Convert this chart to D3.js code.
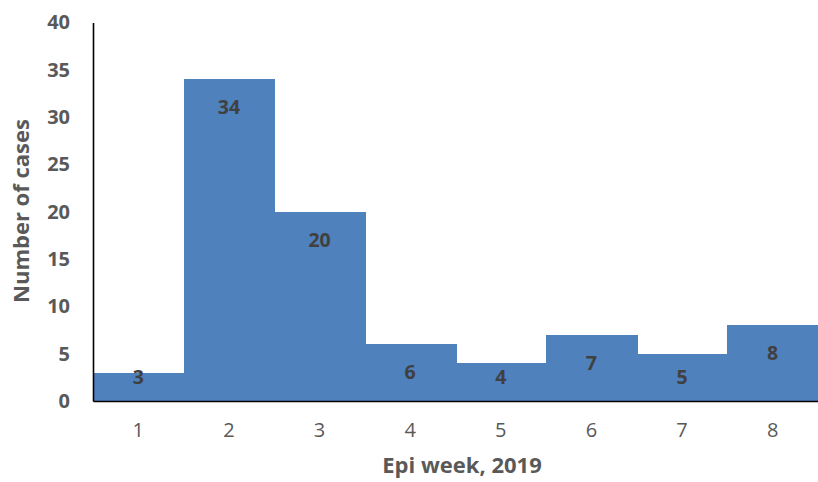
<!DOCTYPE html>
<html><head><meta charset="utf-8">
<script src="https://cdn.jsdelivr.net/npm/d3@7"></script>
<style>body{margin:0;background:#fff}</style>
</head><body>
<svg id="c" width="818" height="482"></svg>
<script>
const weeks = ["1","2","3","4","5","6","7","8"];
const cases = [3,34,20,6,4,7,5,8];
const yTicks = [0,5,10,15,20,25,30,35,40];

const svg = d3.select("#c");
const font = "'Open Sans', sans-serif";
const m = {left:93, right:818, top:22.5, bottom:401};
const x = d3.scaleBand().domain(weeks).range([m.left, m.right]).padding(0);
const y = d3.scaleLinear().domain([0,40]).range([m.bottom, m.top]);

svg.selectAll("rect.bar").data(cases).join("rect")
  .attr("class","bar")
  .attr("x",(d,i)=>x(weeks[i]))
  .attr("width",x.bandwidth()+1)
  .attr("y",d=>y(d))
  .attr("height",d=>y(0)-y(d))
  .attr("fill","#4F81BD")
  .attr("shape-rendering","crispEdges");

// y axis
const ya = svg.append("g").attr("transform",`translate(${m.left},0)`)
  .call(d3.axisLeft(y).tickValues(yTicks).tickSize(0).tickPadding(23));
ya.select(".domain").attr("stroke","#000").attr("stroke-width",1.6);
ya.selectAll("text").attr("font-family",font).attr("font-size",20)
  .attr("font-weight","bold").attr("fill","#595959");

// x axis
const xa = svg.append("g").attr("transform",`translate(0,${m.bottom})`)
  .call(d3.axisBottom(x).tickSize(0).tickPadding(22));
xa.select(".domain").attr("stroke","#000").attr("stroke-width",1.6);
xa.selectAll("text").attr("font-family",font).attr("font-size",20)
  .attr("fill","#595959");

// data labels
svg.selectAll("text.lbl").data(cases).join("text")
  .attr("class","lbl")
  .attr("x",(d,i)=>x(weeks[i])+x.bandwidth()/2)
  .attr("y",d=>Math.min(y(d)+28, y(0)-24))
  .attr("dy","0.35em")
  .attr("text-anchor","middle")
  .attr("font-family",font).attr("font-size",19.5).attr("font-weight","bold")
  .attr("fill","#404040")
  .text(d=>d);

// axis titles
svg.append("text").attr("x",462).attr("y",473).attr("text-anchor","middle")
  .attr("font-family",font).attr("font-size",22).attr("font-weight","bold")
  .attr("fill","#595959").text("Epi week, 2019");
svg.append("text").attr("transform","translate(29,211) rotate(-90)")
  .attr("text-anchor","middle")
  .attr("font-family",font).attr("font-size",22).attr("font-weight","bold")
  .attr("fill","#595959").text("Number of cases");
</script>
</body></html>
